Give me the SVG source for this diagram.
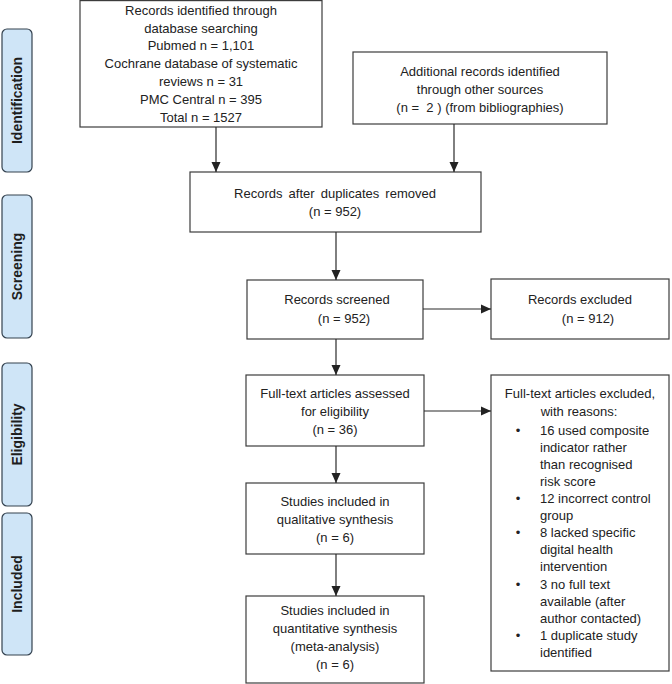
<svg xmlns="http://www.w3.org/2000/svg" width="672" height="684" viewBox="0 0 672 684">
<style>
.box{fill:#fff;stroke:#3c3c3c;stroke-width:1.2}
.t{font-family:"Liberation Sans",Arial,sans-serif;font-size:13px;fill:#222;text-anchor:middle}
.tl{font-family:"Liberation Sans",Arial,sans-serif;font-size:13px;fill:#222}
.side{fill:#cfe5f7;stroke:#34424f;stroke-width:1.2}
.st{font-family:"Liberation Sans",Arial,sans-serif;font-size:14px;font-weight:bold;fill:#1e1e1e;text-anchor:middle}
.c{stroke:#2a2a2a;stroke-width:1.2;fill:none;marker-end:url(#ah)}
</style>
<defs>
<marker id="ah" markerWidth="10" markerHeight="10" refX="10" refY="5" orient="auto" markerUnits="userSpaceOnUse"><path d="M0,0.5 L10,5 L0,9.5 Z" fill="#222"/></marker>
</defs>

<g id="label-identification"><rect class="side" x="2" y="29" width="30" height="143" rx="5"/><text class="st" transform="translate(22,100.5) rotate(-90)">Identification</text></g>
<g id="label-screening"><rect class="side" x="2" y="195" width="30" height="143" rx="5"/><text class="st" transform="translate(22,266.5) rotate(-90)">Screening</text></g>
<g id="label-eligibility"><rect class="side" x="2" y="363" width="30" height="143" rx="5"/><text class="st" transform="translate(22,434.5) rotate(-90)">Eligibility</text></g>
<g id="label-included"><rect class="side" x="2" y="513" width="30" height="142" rx="5"/><text class="st" transform="translate(22,584) rotate(-90)">Included</text></g>

<g id="db-search"><rect class="box" x="80" y="0.6" width="242" height="126.4"/>
<text class="t" x="201" y="14.7">Records identified through</text>
<text class="t" x="201" y="32.5">database searching</text>
<text class="t" x="201" y="50.3">Pubmed n = 1,101</text>
<text class="t" x="201" y="68.1">Cochrane database of systematic</text>
<text class="t" x="201" y="85.9">reviews n = 31</text>
<text class="t" x="201" y="103.7">PMC Central n = 395</text>
<text class="t" x="201" y="121.5">Total n = 1527</text></g>

<g id="other-sources"><rect class="box" x="353" y="52" width="254" height="72"/>
<text class="t" x="480" y="75.6">Additional records identified</text>
<text class="t" x="480" y="93.6">through other sources</text>
<text class="t" x="480" y="111.6">(n =&#160; 2 ) (from bibliographies)</text></g>

<g id="duplicates-removed"><rect class="box" x="190" y="172" width="291" height="60"/>
<text class="t" x="335" y="197.6" word-spacing="2.5">Records after duplicates removed</text>
<text class="t" x="335" y="215.6">(n = 952)</text></g>

<g id="screened"><rect class="box" x="247" y="280" width="176" height="59"/>
<text class="t" x="337" y="304.1">Records screened</text>
<text class="t" x="344" y="322.6">(n = 952)</text></g>

<g id="excluded"><rect class="box" x="491" y="279" width="178" height="60"/>
<text class="t" x="580" y="304.1">Records excluded</text>
<text class="t" x="588" y="322.6">(n = 912)</text></g>

<g id="fulltext"><rect class="box" x="246" y="375" width="178" height="71"/>
<text class="t" x="335" y="397.6">Full-text articles assessed</text>
<text class="t" x="335" y="415.6">for eligibility</text>
<text class="t" x="335" y="433.6">(n = 36)</text></g>

<g id="fulltext-excluded"><rect class="box" x="491" y="375" width="178" height="296"/>
<text class="t" x="580" y="397.6">Full-text articles excluded,</text>
<text class="t" x="579" y="415.6">with reasons:</text>
<text class="t" x="518" y="434.6">•</text><text class="tl" x="540" y="434.6">16 used composite</text>
<text class="tl" x="540" y="451.7">indicator rather</text>
<text class="tl" x="540" y="468.8">than recognised</text>
<text class="tl" x="540" y="485.9">risk score</text>
<text class="t" x="518" y="503">•</text><text class="tl" x="540" y="503">12 incorrect control</text>
<text class="tl" x="540" y="520.1">group</text>
<text class="t" x="518" y="537.2">•</text><text class="tl" x="540" y="537.2">8 lacked specific</text>
<text class="tl" x="540" y="554.3">digital health</text>
<text class="tl" x="540" y="571.4">intervention</text>
<text class="t" x="518" y="588.5">•</text><text class="tl" x="540" y="588.5">3 no full text</text>
<text class="tl" x="540" y="605.6">available (after</text>
<text class="tl" x="540" y="622.7">author contacted)</text>
<text class="t" x="518" y="639.8">•</text><text class="tl" x="540" y="639.8">1 duplicate study</text>
<text class="tl" x="540" y="656.9">identified</text></g>

<g id="qualitative"><rect class="box" x="246" y="483" width="178" height="71"/>
<text class="t" x="335" y="505.6">Studies included in</text>
<text class="t" x="335" y="523.6">qualitative synthesis</text>
<text class="t" x="335" y="541.6">(n = 6)</text></g>

<g id="quantitative"><rect class="box" x="246" y="596" width="178" height="87"/>
<text class="t" x="335" y="614.6">Studies included in</text>
<text class="t" x="335" y="632.6">quantitative synthesis</text>
<text class="t" x="335" y="650.6">(meta-analysis)</text>
<text class="t" x="335" y="668.6">(n = 6)</text></g>

<g id="connectors">
<line class="c" x1="216" y1="127" x2="216" y2="172"/>
<line class="c" x1="454" y1="124" x2="454" y2="172"/>
<line class="c" x1="336" y1="232" x2="336" y2="280"/>
<line class="c" x1="336" y1="339" x2="336" y2="375"/>
<line class="c" x1="336" y1="446" x2="336" y2="483"/>
<line class="c" x1="336" y1="554" x2="336" y2="596"/>
<line class="c" x1="423" y1="309" x2="491" y2="309"/>
<line class="c" x1="424" y1="411" x2="491" y2="411"/>
</g>
</svg>
